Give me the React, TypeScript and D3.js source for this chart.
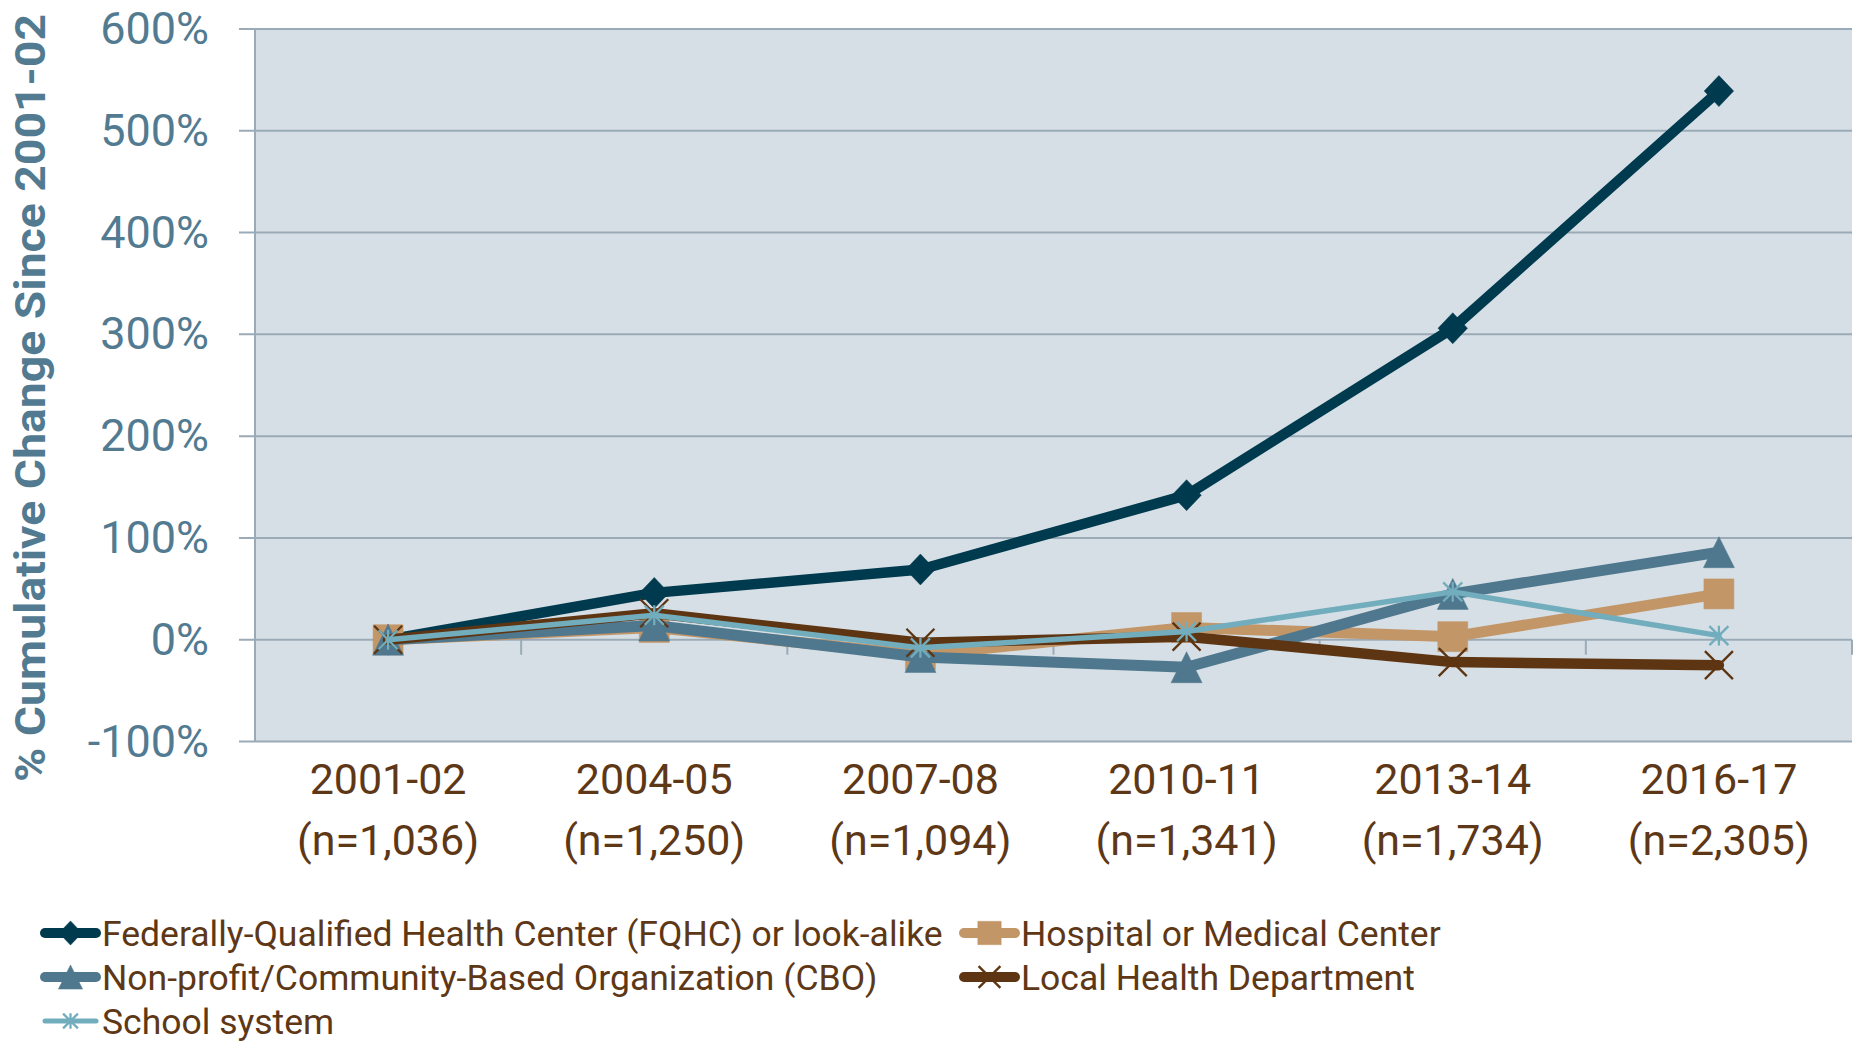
import React from "react";
import * as d3 from "d3";

const categories = ["2001-02", "2004-05", "2007-08", "2010-11", "2013-14", "2016-17"];
const sampleSizes = ["(n=1,036)", "(n=1,250)", "(n=1,094)", "(n=1,341)", "(n=1,734)", "(n=2,305)"];
const fqhc = [0, 46, 69, 142, 306, 539];
const hospital = [0, 12, -15, 12, 3, 45];
const cbo = [0, 14, -17, -27, 45, 86];
const lhd = [0, 26, -3, 3, -22, -25];
const school = [0, 24, -8, 8, 47, 4];
const yTicks = [-100, 0, 100, 200, 300, 400, 500, 600];
const seriesNames = [
  "Federally-Qualified Health Center (FQHC) or look-alike",
  "Hospital or Medical Center",
  "Non-profit/Community-Based Organization (CBO)",
  "Local Health Department",
  "School system",
];

const W = 1860;
const H = 1045;
const FONT = "Roboto, 'Noto Sans', sans-serif";
const TEXT_BROWN = "#5e3816";
const AXIS_BLUE = "#527b91";
const GRID = "#9aabb7";
const PLOT_BG = "#d6dfe5";

type Marker = "diamond" | "square" | "triangle" | "x" | "star";

function markerPath(kind: Marker, s: number): string {
  const h = s / 2;
  switch (kind) {
    case "diamond":
      return `M0,${-h}L${h * 0.95},0L0,${h}L${-h * 0.95},0Z`;
    case "square":
      return `M${-h},${-h}H${h}V${h}H${-h}Z`;
    case "triangle":
      return `M0,${-h}L${h},${h}H${-h}Z`;
    case "x":
      return `M${-h},${-h}L${h},${h}M${h},${-h}L${-h},${h}`;
    case "star":
      return `M${-h},${-h}L${h},${h}M${h},${-h}L${-h},${h}M0,${-h * 1.05}V${h * 1.05}`;
  }
}

const series = [
  { name: seriesNames[0], values: fqhc, color: "#003a4e", width: 10.5, marker: "diamond" as Marker, size: 31 },
  { name: seriesNames[1], values: hospital, color: "#c39668", width: 11, marker: "square" as Marker, size: 30 },
  { name: seriesNames[2], values: cbo, color: "#4f788e", width: 11, marker: "triangle" as Marker, size: 31 },
  { name: seriesNames[3], values: lhd, color: "#5e3512", width: 10.5, marker: "x" as Marker, size: 28 },
  { name: seriesNames[4], values: school, color: "#72adbd", width: 5.5, marker: "star" as Marker, size: 19 },
];

function MarkerShape({ kind, size, color, x, y }: { kind: Marker; size: number; color: string; x: number; y: number }) {
  const stroked = kind === "x" || kind === "star";
  return (
    <path
      d={markerPath(kind, size)}
      transform={`translate(${x},${y})`}
      fill={stroked ? "none" : color}
      stroke={color}
      strokeWidth={stroked ? 2.3 : 0.5}
    />
  );
}

export default function App() {
  const left = 255;
  const right = 1852;
  const top = 29;
  const bottom = 741.5;

  const x = d3.scaleBand<string>().domain(categories).range([left, right]);
  const cx = (c: string) => (x(c) as number) + x.bandwidth() / 2;
  const y = d3.scaleLinear().domain([-100, 600]).range([bottom, top]);

  const line = d3
    .line<number>()
    .x((_, i) => cx(categories[i]))
    .y((v) => y(v));

  const boundaries = d3.range(1, categories.length + 1).map((k) => left + k * x.bandwidth());

  const legendItems = [
    { s: series[0], lx: 40, row: 0 },
    { s: series[1], lx: 959, row: 0 },
    { s: series[2], lx: 40, row: 1 },
    { s: series[3], lx: 959, row: 1 },
    { s: series[4], lx: 40, row: 2 },
  ];
  const legendRowY = [933, 977, 1021];

  return (
    <svg
      width={W}
      height={H}
      style={{ position: "absolute", left: 0, top: 0, background: "#ffffff" }}
      fontFamily={FONT}
    >
      <rect x={0} y={0} width={W} height={H} fill="#ffffff" />
      <rect x={left} y={top} width={right - left} height={bottom - top} fill={PLOT_BG} />

      {yTicks.map((t) => (
        <g key={t}>
          <line x1={left - 16} x2={right} y1={y(t)} y2={y(t)} stroke={GRID} strokeWidth={2} />
          <text x={209} y={y(t) + 15} textAnchor="end" fontSize={45} fill={AXIS_BLUE}>
            {`${t}%`}
          </text>
        </g>
      ))}
      <line x1={left} x2={left} y1={top} y2={bottom} stroke={GRID} strokeWidth={2} />
      {boundaries.map((bx) => (
        <line key={bx} x1={bx} x2={bx} y1={y(0)} y2={y(0) + 15} stroke={GRID} strokeWidth={2} />
      ))}

      {categories.map((c, i) => (
        <g key={c}>
          <text x={cx(c)} y={794} textAnchor="middle" fontSize={43} fill={TEXT_BROWN}>
            {c}
          </text>
          <text x={cx(c)} y={855} textAnchor="middle" fontSize={43} fill={TEXT_BROWN}>
            {sampleSizes[i]}
          </text>
        </g>
      ))}

      <text
        transform={`translate(45,398) rotate(-90)`}
        textAnchor="middle"
        fontSize={43}
        fontWeight="bold"
        fill={AXIS_BLUE}
        textLength={768}
        lengthAdjust="spacingAndGlyphs"
      >
        % Cumulative Change Since 2001-02
      </text>

      {series.map((s) => (
        <g key={s.name}>
          <path d={line(s.values) || ""} fill="none" stroke={s.color} strokeWidth={s.width} strokeLinejoin="round" strokeLinecap="round" />
          {s.values.map((v, i) => (
            <MarkerShape key={i} kind={s.marker} size={s.size} color={s.color} x={cx(categories[i])} y={y(v)} />
          ))}
        </g>
      ))}

      {legendItems.map(({ s, lx, row }) => {
        const ly = legendRowY[row];
        return (
          <g key={s.name}>
            <line x1={lx + 5} x2={lx + 56} y1={ly} y2={ly} stroke={s.color} strokeWidth={s.width === 5.5 ? 5 : 10} strokeLinecap="round" />
            <MarkerShape kind={s.marker} size={s.size * 0.78} color={s.color} x={lx + 30.5} y={ly} />
            <text x={lx + 62} y={ly + 12.5} fontSize={35.5} fill={TEXT_BROWN}>
              {s.name}
            </text>
          </g>
        );
      })}
    </svg>
  );
}
